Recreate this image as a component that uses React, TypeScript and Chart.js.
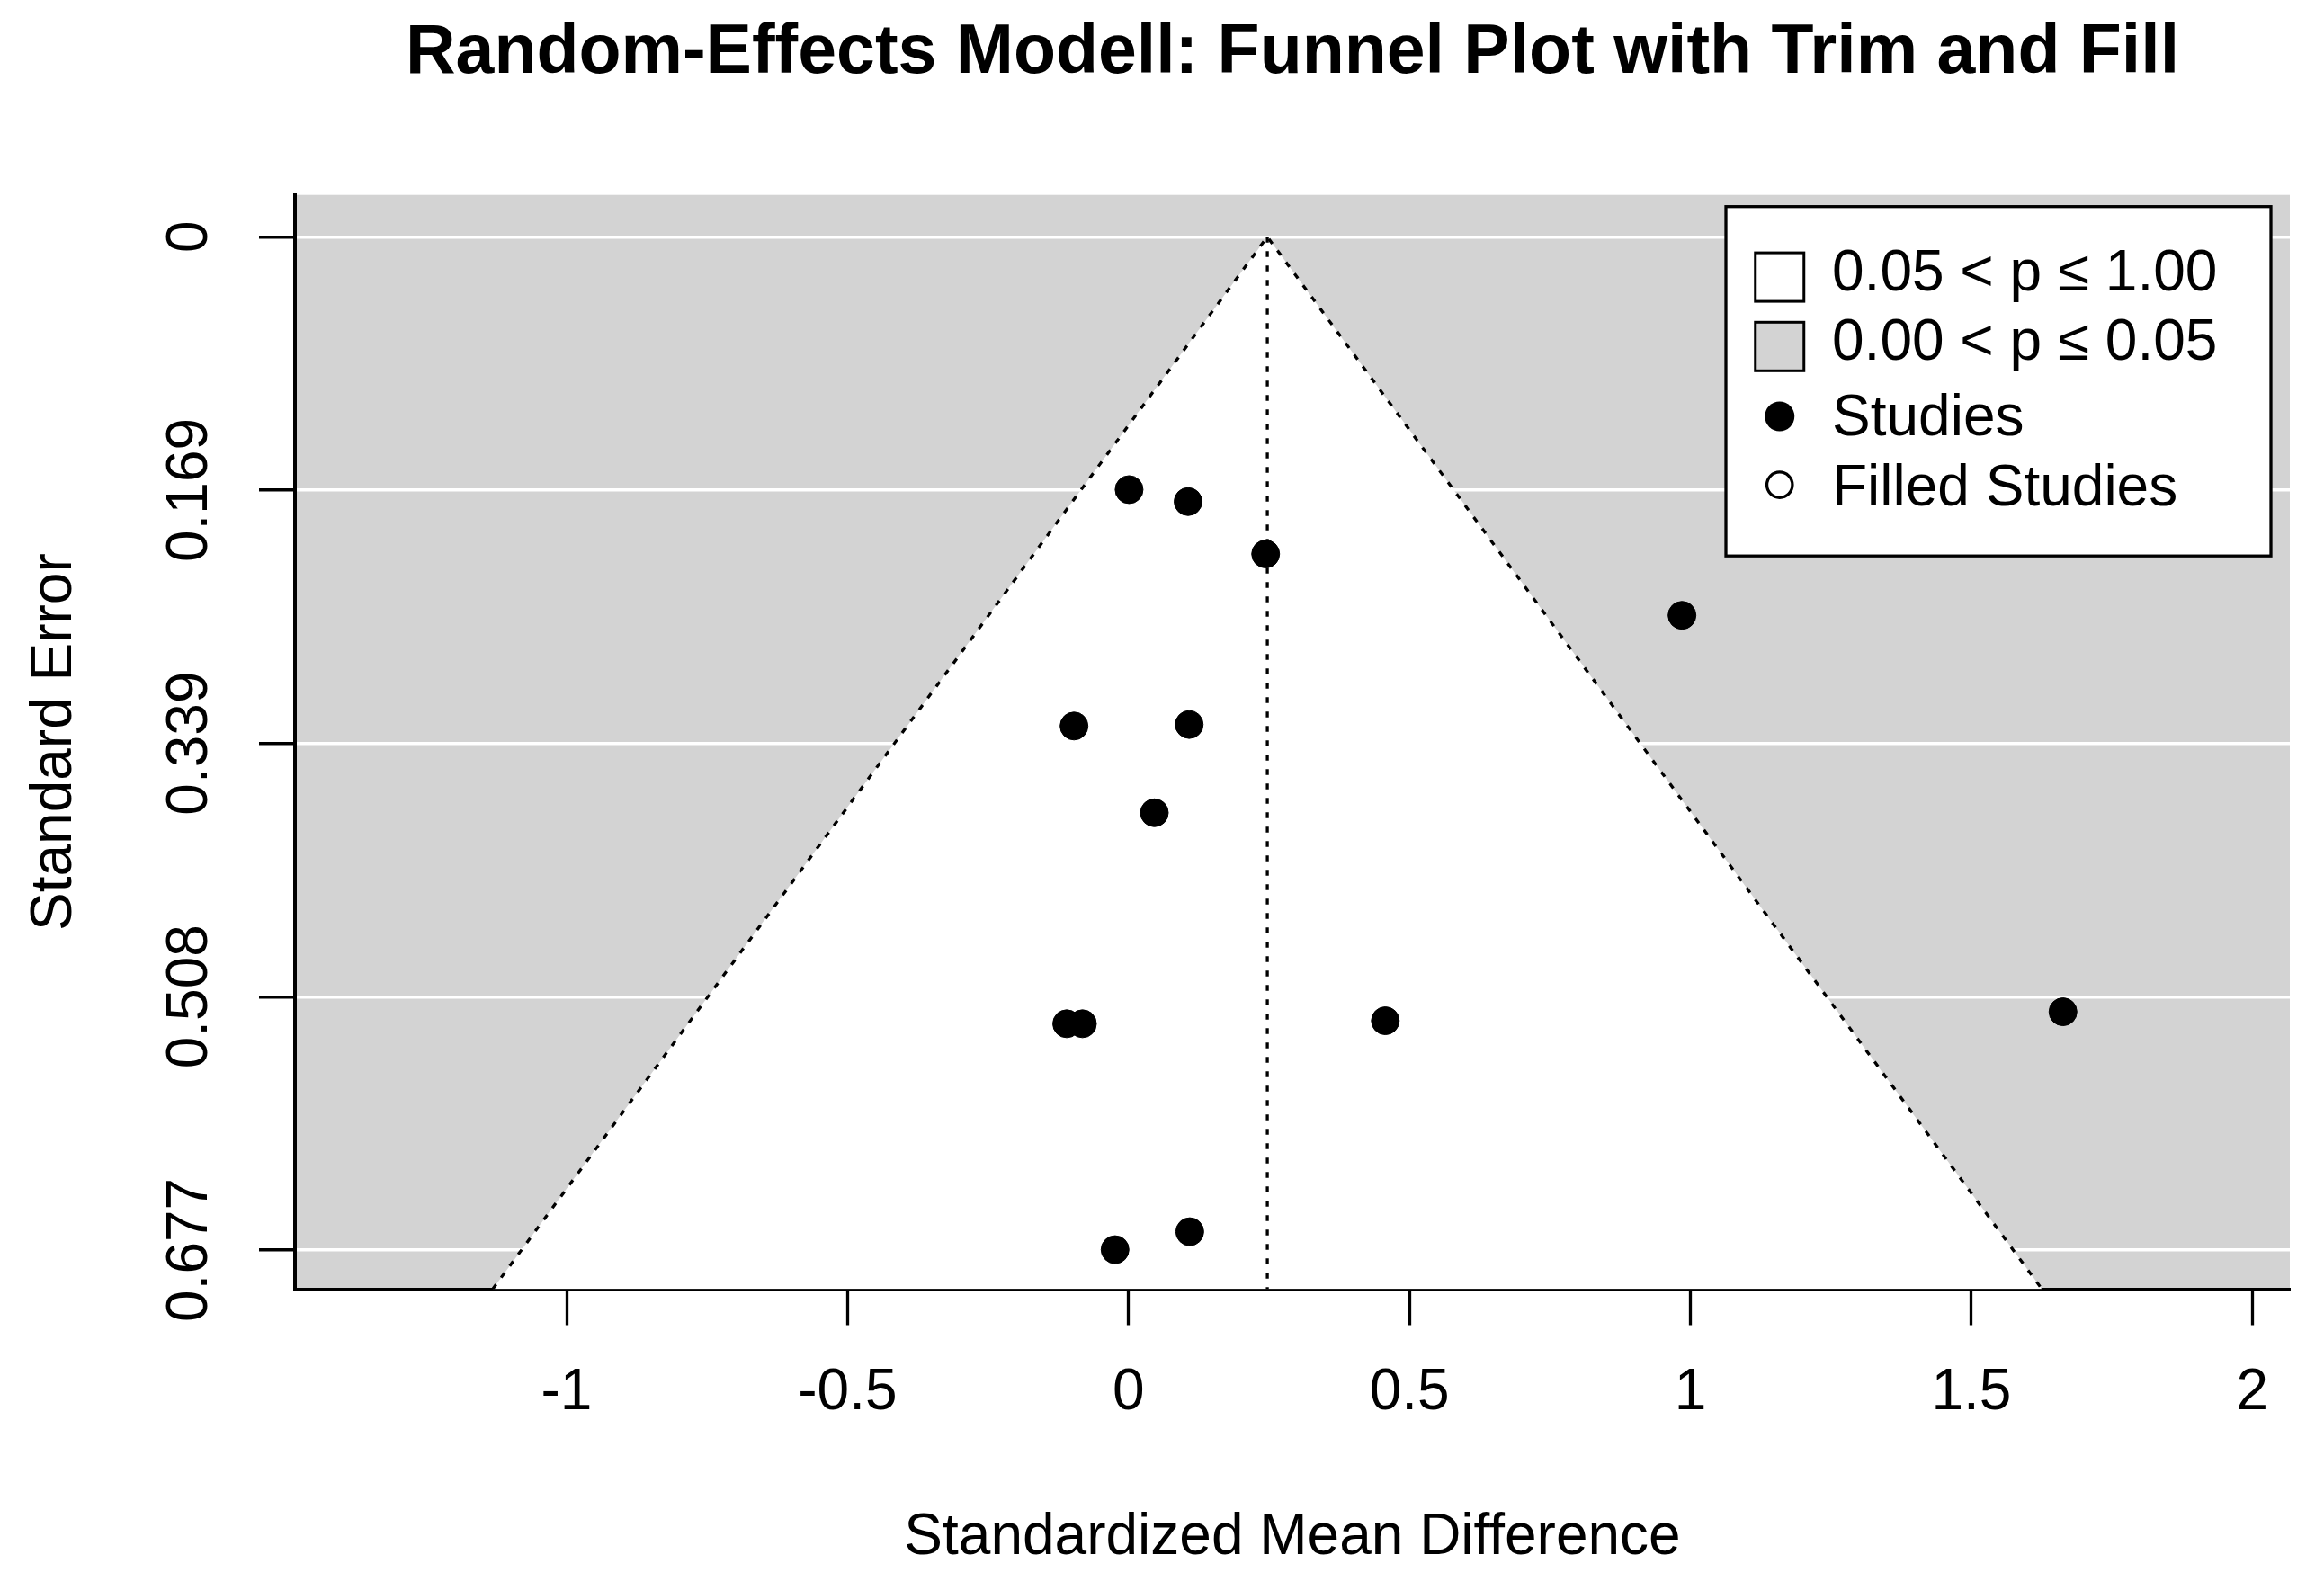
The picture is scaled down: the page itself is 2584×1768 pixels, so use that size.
import React, { useEffect, useRef } from 'react';
import { Chart, registerables } from 'chart.js';

Chart.register(...registerables);

// ---------- data ----------
const studyEffects = [0.001, 0.106, 0.244, 0.985, -0.097, 0.108, 0.046, -0.110, -0.082, 0.457, 1.663, 0.109, -0.024];
const studySE = [0.169, 0.177, 0.212, 0.253, 0.327, 0.326, 0.385, 0.526, 0.526, 0.524, 0.518, 0.665, 0.677];
const pooledEstimate = 0.247;
const zCrit = 1.96;

const xTickValues = [-1, -0.5, 0, 0.5, 1, 1.5, 2];
const xTickLabels = ['-1', '-0.5', '0', '0.5', '1', '1.5', '2'];
const yTickValues = [0, 0.1693, 0.3386, 0.5079, 0.6772];
const yTickLabels = ['0', '0.169', '0.339', '0.508', '0.677'];
const xRange = [-1.4834, 2.0667];
const yRange = [-0.028, 0.7034];

const legendLabels = ['0.05 < p \u2264 1.00', '0.00 < p \u2264 0.05', 'Studies', 'Filled Studies'];
const titleText = 'Random-Effects Modell: Funnel Plot with Trim and Fill';
const xTitle = 'Standardized Mean Difference';
const yTitle = 'Standard Error';

// ---------- style ----------
const FONT = "'Liberation Sans', Arial, Helvetica, sans-serif";
const GRAY = '#D3D3D3';
const DASH = [6.5, 9.5];
const BASE = 64;

const backgroundPlugin = {
  id: 'plotBackground',
  beforeDraw(chart: any) {
    const { ctx, chartArea } = chart;
    ctx.save();
    ctx.fillStyle = GRAY;
    ctx.fillRect(chartArea.left, chartArea.top, chartArea.right - chartArea.left, chartArea.bottom - chartArea.top);
    ctx.restore();
  },
};

const legendPlugin = {
  id: 'funnelLegend',
  afterDraw(chart: any) {
    const { ctx, chartArea } = chart;
    const right = chartArea.right - 21;
    const top = chartArea.top + 13;
    const left = right - 606;
    const bottom = top + 388.5;
    ctx.save();
    ctx.fillStyle = '#fff';
    ctx.fillRect(left, top, right - left, bottom - top);
    ctx.lineWidth = 3.3;
    ctx.strokeStyle = '#000';
    ctx.strokeRect(left, top, right - left, bottom - top);

    const symX = left + 59.75;
    const symY = [78.4, 155.6, 233.3, 309.4].map((d) => top + d);
    const textY = [93.7, 170.5, 254.2, 332.4].map((d) => top + d);
    const sq = 54;

    // squares
    ctx.lineWidth = 3;
    ctx.fillStyle = '#fff';
    ctx.fillRect(symX - sq / 2, symY[0] - sq / 2, sq, sq);
    ctx.strokeRect(symX - sq / 2, symY[0] - sq / 2, sq, sq);
    ctx.fillStyle = GRAY;
    ctx.fillRect(symX - sq / 2, symY[1] - sq / 2, sq, sq);
    ctx.strokeRect(symX - sq / 2, symY[1] - sq / 2, sq, sq);

    // filled dot
    ctx.fillStyle = '#000';
    ctx.beginPath();
    ctx.arc(symX, symY[2], 16.5, 0, Math.PI * 2);
    ctx.fill();

    // open circle
    ctx.lineWidth = 3.3;
    ctx.beginPath();
    ctx.arc(symX, symY[3], 14.2, 0, Math.PI * 2);
    ctx.stroke();

    ctx.fillStyle = '#000';
    ctx.font = `${BASE}px ${FONT}`;
    ctx.textAlign = 'left';
    ctx.textBaseline = 'alphabetic';
    legendLabels.forEach((t, i) => ctx.fillText(t, left + 118, textY[i]));
    ctx.restore();
  },
};

export default function App() {
  const canvasRef = useRef<HTMLCanvasElement | null>(null);

  useEffect(() => {
    if (!canvasRef.current) return;
    const yMax = yRange[1];
    const funnelData = [
      { x: pooledEstimate - zCrit * yMax, y: yMax },
      { x: pooledEstimate, y: 0 },
      { x: pooledEstimate + zCrit * yMax, y: yMax },
    ];
    const centerData = [
      { x: pooledEstimate, y: 0 },
      { x: pooledEstimate, y: yMax },
    ];
    const studyData = studyEffects.map((x, i) => ({ x, y: studySE[i] }));

    const chart = new Chart(canvasRef.current, {
      type: 'scatter',
      data: {
        datasets: [
          {
            label: 'Studies',
            data: studyData,
            backgroundColor: '#000',
            borderColor: '#000',
            borderWidth: 1,
            pointRadius: 15.5,
            order: 0,
          } as any,
          {
            label: 'center',
            data: centerData,
            showLine: true,
            borderColor: '#000',
            borderWidth: 3.3,
            borderDash: DASH,
            pointRadius: 0,
            fill: false,
            order: 1,
          } as any,
          {
            label: 'funnel',
            data: funnelData,
            showLine: true,
            borderColor: '#000',
            borderWidth: 3.3,
            borderDash: DASH,
            backgroundColor: '#fff',
            pointRadius: 0,
            tension: 0,
            fill: { value: yMax },
            order: 2,
          } as any,
        ],
      },
      options: {
        responsive: false,
        animation: false,
        devicePixelRatio: 1,
        events: [],
        layout: { padding: { left: 0, right: 38, top: 0, bottom: 0 } },
        plugins: {
          legend: { display: false },
          tooltip: { enabled: false },
          title: {
            display: true,
            text: titleText,
            fullSize: false,
            color: '#000',
            font: { family: FONT, size: 77, weight: 'bold', lineHeight: 1.2 },
            padding: { top: 13.8, bottom: 110.5 },
          },
        },
        scales: {
          x: {
            type: 'linear',
            position: 'bottom',
            min: xRange[0],
            max: xRange[1],
            z: 1,
            afterBuildTicks: (s: any) => {
              s.ticks = xTickValues.map((v) => ({ value: v }));
            },
            afterFit: (s: any) => {
              s.height = 334.5;
            },
            ticks: {
              autoSkip: false,
              maxRotation: 0,
              minRotation: 0,
              color: '#000',
              padding: 37.4,
              font: { family: FONT, size: BASE, lineHeight: 1.2 },
              callback: (_v: any, i: number) => xTickLabels[i],
            },
            grid: {
              display: true,
              drawOnChartArea: false,
              drawTicks: true,
              tickLength: 40,
              tickWidth: 3.3,
              tickColor: '#000',
            },
            border: { display: true, color: '#000', width: 4 },
            title: {
              display: true,
              text: xTitle,
              color: '#000',
              font: { family: FONT, size: BASE, lineHeight: 1.2 },
              padding: { top: 0, bottom: 19.6 },
            },
          },
          y: {
            type: 'linear',
            position: 'left',
            reverse: true,
            min: yRange[0],
            max: yRange[1],
            afterBuildTicks: (s: any) => {
              s.ticks = yTickValues.map((v) => ({ value: v }));
            },
            afterFit: (s: any) => {
              s.width = 328;
            },
            ticks: {
              autoSkip: false,
              minRotation: 90,
              maxRotation: 90,
              crossAlign: 'center',
              color: '#000',
              padding: -4,
              font: { family: FONT, size: BASE, lineHeight: 1.2 },
              callback: (_v: any, i: number) => yTickLabels[i],
            },
            grid: {
              display: true,
              drawOnChartArea: true,
              color: '#fff',
              lineWidth: 3.5,
              drawTicks: true,
              tickLength: 40,
              tickWidth: 3.3,
              tickColor: '#000',
            },
            border: { display: true, color: '#000', width: 4 },
            title: {
              display: true,
              text: yTitle,
              color: '#000',
              font: { family: FONT, size: BASE, lineHeight: 1.2 },
              padding: { top: 22.6, bottom: 0 },
            },
          },
        },
      } as any,
      plugins: [backgroundPlugin, legendPlugin],
    });
    return () => chart.destroy();
  }, []);

  return (
    <div style={{ position: 'absolute', left: 0, top: 0, width: 2584, height: 1768, background: '#fff' }}>
      <canvas ref={canvasRef} width={2584} height={1768} style={{ display: 'block', width: 2584, height: 1768 }} />
    </div>
  );
}
